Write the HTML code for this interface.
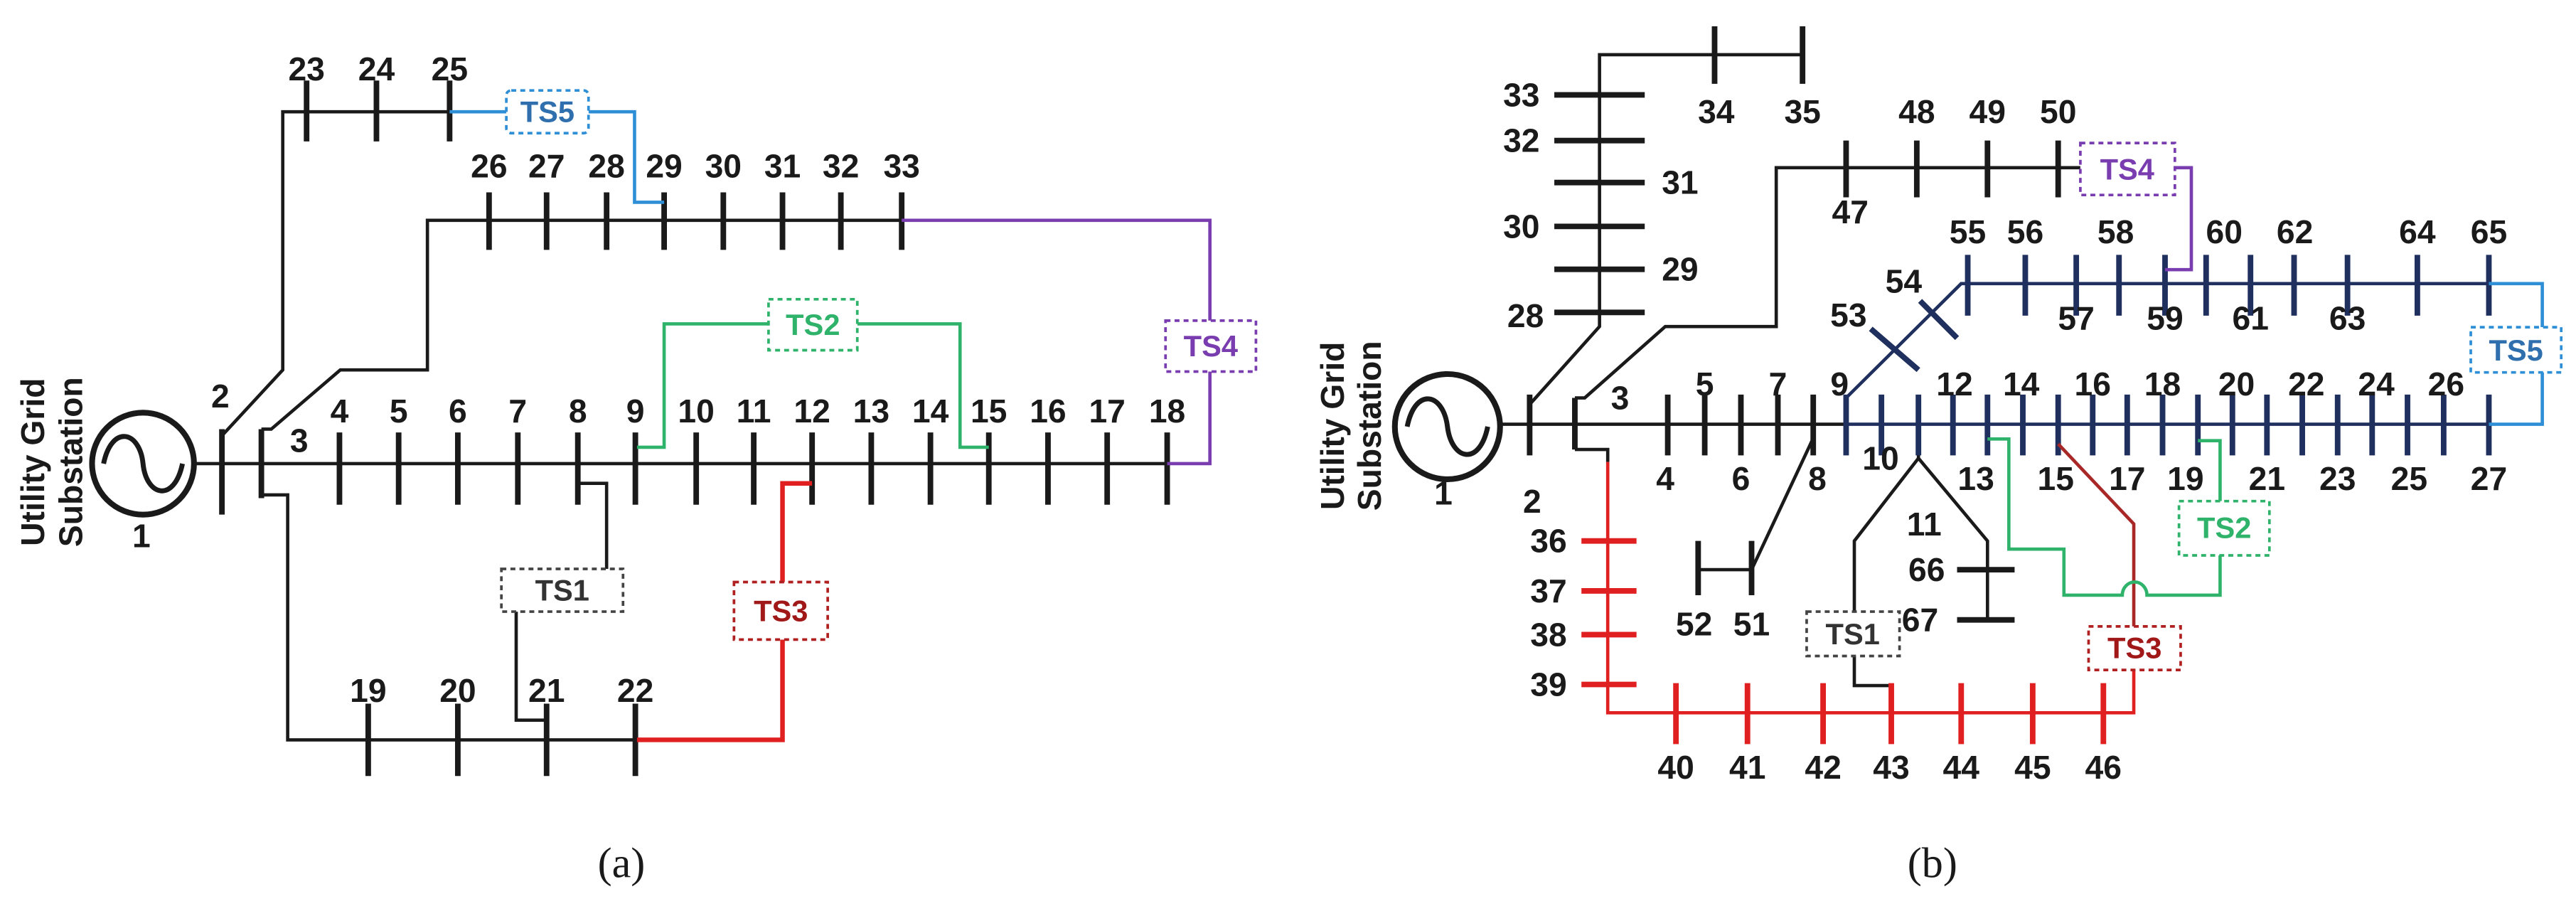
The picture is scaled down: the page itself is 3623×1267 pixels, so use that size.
<!DOCTYPE html>
<html><head><meta charset="utf-8"><style>
html,body{margin:0;padding:0;background:#fff;}
svg{display:block}
text{font-family:"Liberation Sans",sans-serif;font-weight:bold;font-size:20px;fill:#1a1a1a;text-anchor:middle;dominant-baseline:central}
.ts{font-weight:bold;font-size:18px}
.cap{font-family:"Liberation Serif",serif;font-weight:normal;font-size:26px}
.k{stroke:#1a1a1a;fill:none}
.bx{fill:#fff;stroke-width:1.6;stroke-dasharray:3 2.5}
</style></head><body>
<svg width="3623" height="1267" viewBox="0 0 1567 548" preserveAspectRatio="none">
<!-- ============ PANEL A ============ -->
<circle cx="87" cy="282" r="31" fill="none" stroke="#1a1a1a" stroke-width="3.5"/>
<path d="M63 282 C68 258 85 262 87 282 C89 302 106 306 111 282" fill="none" stroke="#1a1a1a" stroke-width="3"/>
<text transform="translate(20,281) rotate(-90)" font-size="16">Utility Grid</text>
<text transform="translate(43,281) rotate(-90)" font-size="16">Substation</text>
<text x="86" y="326">1</text>
<g class="k" stroke-width="2">
<path d="M118 282H710"/>
<path d="M135 265L172 225V68H273.5"/>
<path d="M159 261H165L207 225H260V134H548.5"/>
<path d="M159 301H175V450H387.5"/>
<path d="M351.5 294H369V346"/>
<path d="M314 372V438H332.5"/>
</g>
<g class="k" stroke-width="3.4">
<path d="M135 261V313M159 261V303"/>
<path d="M206.5 263V307M242.5 263V307M278.5 263V307M315 263V307M351.5 263V307M386.5 263V307M423.5 263V307M458.5 263V307M494 263V307M530 263V307M566 263V307M601.5 263V307M637.5 263V307M673.5 263V307M710 263V307"/>
<path d="M297.5 117V152M332.5 117V152M369 117V152M404 117V152M440 117V152M476 117V152M511.5 117V152M548.5 117V152"/>
<path d="M186.5 49V86M229 49V86M273.5 49V86"/>
<path d="M224 428V472M278.5 428V472M332.5 428V472M386.5 428V472"/>
</g>
<text x="134" y="241">2</text><text x="182" y="268">3</text>
<g>
<text x="206.5" y="250">4</text><text x="242.5" y="250">5</text><text x="278.5" y="250">6</text><text x="315" y="250">7</text><text x="351.5" y="250">8</text><text x="386.5" y="250">9</text><text x="423.5" y="250">10</text><text x="458.5" y="250">11</text><text x="494" y="250">12</text><text x="530" y="250">13</text><text x="566" y="250">14</text><text x="601.5" y="250">15</text><text x="637.5" y="250">16</text><text x="673.5" y="250">17</text><text x="710" y="250">18</text>
<text x="297.5" y="101">26</text><text x="332.5" y="101">27</text><text x="369" y="101">28</text><text x="404" y="101">29</text><text x="440" y="101">30</text><text x="476" y="101">31</text><text x="511.5" y="101">32</text><text x="548.5" y="101">33</text>
<text x="186.5" y="42">23</text><text x="229" y="42">24</text><text x="273.5" y="42">25</text>
<text x="224" y="420">19</text><text x="278.5" y="420">20</text><text x="332.5" y="420">21</text><text x="386.5" y="420">22</text>
</g>
<path d="M273.5 68H308M358 68H386V123H404" fill="none" stroke="#2f8fd6" stroke-width="2"/>
<path d="M548.5 134H736V195M736 226V282H710" fill="none" stroke="#7a3db0" stroke-width="2"/>
<path d="M387.5 272H404V197H467.5M521.5 197H584V272H601.5" fill="none" stroke="#2fb36a" stroke-width="2"/>
<path d="M494 294H476V354M476 389V450H387.5" fill="none" stroke="#e02020" stroke-width="2.8"/>
<rect x="308" y="55" width="50" height="26" rx="3" class="bx" stroke="#2f8fd6"/><text class="ts" x="333" y="68" style="fill:#2f6fae">TS5</text>
<rect x="709" y="195" width="55" height="31" class="bx" stroke="#7a3db0"/><text class="ts" x="736.5" y="210.5" style="fill:#7a3db0">TS4</text>
<rect x="467.5" y="182" width="54" height="31" class="bx" stroke="#2fb36a"/><text class="ts" x="494.5" y="197.5" style="fill:#2fb36a">TS2</text>
<rect x="305" y="346" width="74" height="26" class="bx" stroke="#444"/><text class="ts" x="342" y="359" style="fill:#333">TS1</text>
<rect x="446.5" y="354" width="57" height="35" class="bx" stroke="#b02020"/><text class="ts" x="475" y="371.5" style="fill:#a01818">TS3</text>
<text class="cap" x="378" y="525">(a)</text>

<!-- ============ PANEL B ============ -->
<circle cx="880.5" cy="259.5" r="32" fill="none" stroke="#1a1a1a" stroke-width="3.5"/>
<path d="M856 259.5 C861 235 878 239 880.5 259.5 C883 280 900 284 905 259.5" fill="none" stroke="#1a1a1a" stroke-width="3"/>
<text transform="translate(810.5,259) rotate(-90)" font-size="16">Utility Grid</text>
<text transform="translate(833,259) rotate(-90)" font-size="16">Substation</text>
<text x="878" y="300">1</text>
<g class="k" stroke-width="2">
<path d="M912 258H1123"/>
<path d="M930.5 246L973 198.6V33.3H1096.5"/>
<path d="M958 242H964L1013 198.6H1080.5V102H1265.5"/>
<path d="M958 273.4H978V281"/>
<path d="M1167 258V278.7L1128 329V372M1167 278.7L1209 329V376"/>
<path d="M1190.5 346.5H1209"/>
<path d="M1103 266.5L1065.5 346.5H1033"/>
<path d="M1128 399V417H1150.5"/>
</g>
<g class="k" stroke-width="3.4">
<path d="M930.5 240V277M958 242V273.4"/>
<path d="M1014.5 240V277M1037 240V277M1059 240V277M1081.5 240V277M1103 240V277"/>
<path d="M1043 16V51M1096.5 16V51"/>
<path d="M945.5 57.7H1000.5M945.5 85.5H1000.5M945.5 111H1000.5M945.5 137.7H1000.5M945.5 163.8H1000.5M945.5 190H1000.5"/>
<path d="M1123 85.5V120M1166 85.5V120M1209 85.5V120M1252 85.5V120"/>
<path d="M1190.5 346.5H1225.5M1190.5 377H1225.5"/>
<path d="M1065.5 329V362M1033 329V362"/>
</g>
<path d="M1123 258H1514M1123 242L1193 172.5H1514" fill="none" stroke="#1f2f5e" stroke-width="2"/>
<g stroke="#1f2f5e" stroke-width="3.4" fill="none">
<path d="M1123 240V277M1144.5 240V277M1167 240V277M1188 240V277M1209 240V277M1230.5 240V277M1252 240V277M1273 240V277M1294 240V277M1315.5 240V277M1337 240V277M1358 240V277M1379 240V277M1400.5 240V277M1422 240V277M1443 240V277M1464.5 240V277M1486.5 240V277M1514 240V277"/>
<path d="M1197 155V192M1232 155V192M1263 155V192M1289 155V192M1317 155V192M1342 155V192M1369 155V192M1395.5 155V192M1428 155V192M1470.5 155V192M1514 155V192"/>
<path d="M1168 183L1190.5 205.6M1138 200L1167 225"/>
</g>
<path d="M978 281V433.5H1298V407.5M1150.5 417V433.5" fill="none" stroke="#e02020" stroke-width="2"/>
<g stroke="#e02020" stroke-width="3.4">
<path d="M962 329H995.5M962 359.4H995.5M962 386H995.5M962 416.3H995.5"/>
<path d="M1019.5 415.5V452.6M1063 415.5V452.6M1109 415.5V452.6M1150.5 415.5V452.6M1193 415.5V452.6M1236.5 415.5V452.6M1279.5 415.5V452.6"/>
</g>
<path d="M1252 270L1298 318.7V381" fill="none" stroke="#a82828" stroke-width="2"/>
<path d="M1209 267H1222V334H1255.5V362H1291 A7.5 8 0 0 1 1306 362H1350.5V337.8M1350.5 304.8V268H1337" fill="none" stroke="#2fb36a" stroke-width="2"/>
<path d="M1514 172.5H1546.5V199M1546.5 226.5V258H1514" fill="none" stroke="#2f8fd6" stroke-width="2"/>
<path d="M1323 102H1333V164H1317" fill="none" stroke="#7a3db0" stroke-width="2"/>
<rect x="1265.5" y="87" width="57.5" height="31.6" class="bx" stroke="#7a3db0"/><text class="ts" x="1294" y="103" style="fill:#7a3db0">TS4</text>
<rect x="1503" y="199" width="55" height="27.5" class="bx" stroke="#2f8fd6"/><text class="ts" x="1530.5" y="213" style="fill:#2f6fae">TS5</text>
<rect x="1325.5" y="304.8" width="55" height="33" class="bx" stroke="#2fb36a"/><text class="ts" x="1353" y="321" style="fill:#2fb36a">TS2</text>
<rect x="1099" y="372" width="56.5" height="27" class="bx" stroke="#444"/><text class="ts" x="1127" y="385.5" style="fill:#333">TS1</text>
<rect x="1270.5" y="381" width="56" height="26.5" class="bx" stroke="#b02020"/><text class="ts" x="1298.5" y="394" style="fill:#a01818">TS3</text>
<g>
<text x="932" y="305">2</text><text x="985.5" y="242">3</text>
<text x="1037" y="233.5">5</text><text x="1081.5" y="233.5">7</text><text x="1119" y="233.5">9</text><text x="1189" y="233.5">12</text><text x="1229.5" y="233.5">14</text><text x="1273" y="233.5">16</text><text x="1315.5" y="233.5">18</text><text x="1360.5" y="233.5">20</text><text x="1403" y="233.5">22</text><text x="1445.5" y="233.5">24</text><text x="1488" y="233.5">26</text>
<text x="1013" y="291">4</text><text x="1059" y="291">6</text><text x="1105.5" y="291">8</text><text x="1144" y="278.7">10</text><text x="1202" y="291">13</text><text x="1250.5" y="291">15</text><text x="1294" y="291">17</text><text x="1329.5" y="291">19</text><text x="1379" y="291">21</text><text x="1422" y="291">23</text><text x="1465.5" y="291">25</text><text x="1514" y="291">27</text>
<text x="1170.5" y="318.7">11</text><text x="1172" y="346.5">66</text><text x="1168" y="377">67</text>
<text x="1030.5" y="379.6">52</text><text x="1065.5" y="379.6">51</text>
<text x="942" y="329">36</text><text x="942" y="359.4">37</text><text x="942" y="386">38</text><text x="942" y="416.3">39</text>
<text x="1019.5" y="466.6">40</text><text x="1063" y="466.6">41</text><text x="1109" y="466.6">42</text><text x="1150.5" y="466.6">43</text><text x="1193" y="466.6">44</text><text x="1236.5" y="466.6">45</text><text x="1279.5" y="466.6">46</text>
<text x="925.5" y="57.7">33</text><text x="925.5" y="85.5">32</text><text x="1022" y="111">31</text><text x="925.5" y="137.7">30</text><text x="1022" y="163.8">29</text><text x="928" y="192">28</text>
<text x="1044" y="68">34</text><text x="1096.5" y="68">35</text>
<text x="1166" y="68">48</text><text x="1209" y="68">49</text><text x="1252" y="68">50</text><text x="1125.5" y="129">47</text>
<text x="1158" y="171">54</text><text x="1124.5" y="191.7">53</text>
<text x="1197" y="141">55</text><text x="1232" y="141">56</text><text x="1287" y="141">58</text><text x="1353" y="141">60</text><text x="1396" y="141">62</text><text x="1470.5" y="141">64</text><text x="1514" y="141">65</text>
<text x="1263" y="193.5">57</text><text x="1317" y="193.5">59</text><text x="1369" y="193.5">61</text><text x="1428" y="193.5">63</text>
</g>
<text class="cap" x="1175.5" y="525">(b)</text>
</svg>
</body></html>
